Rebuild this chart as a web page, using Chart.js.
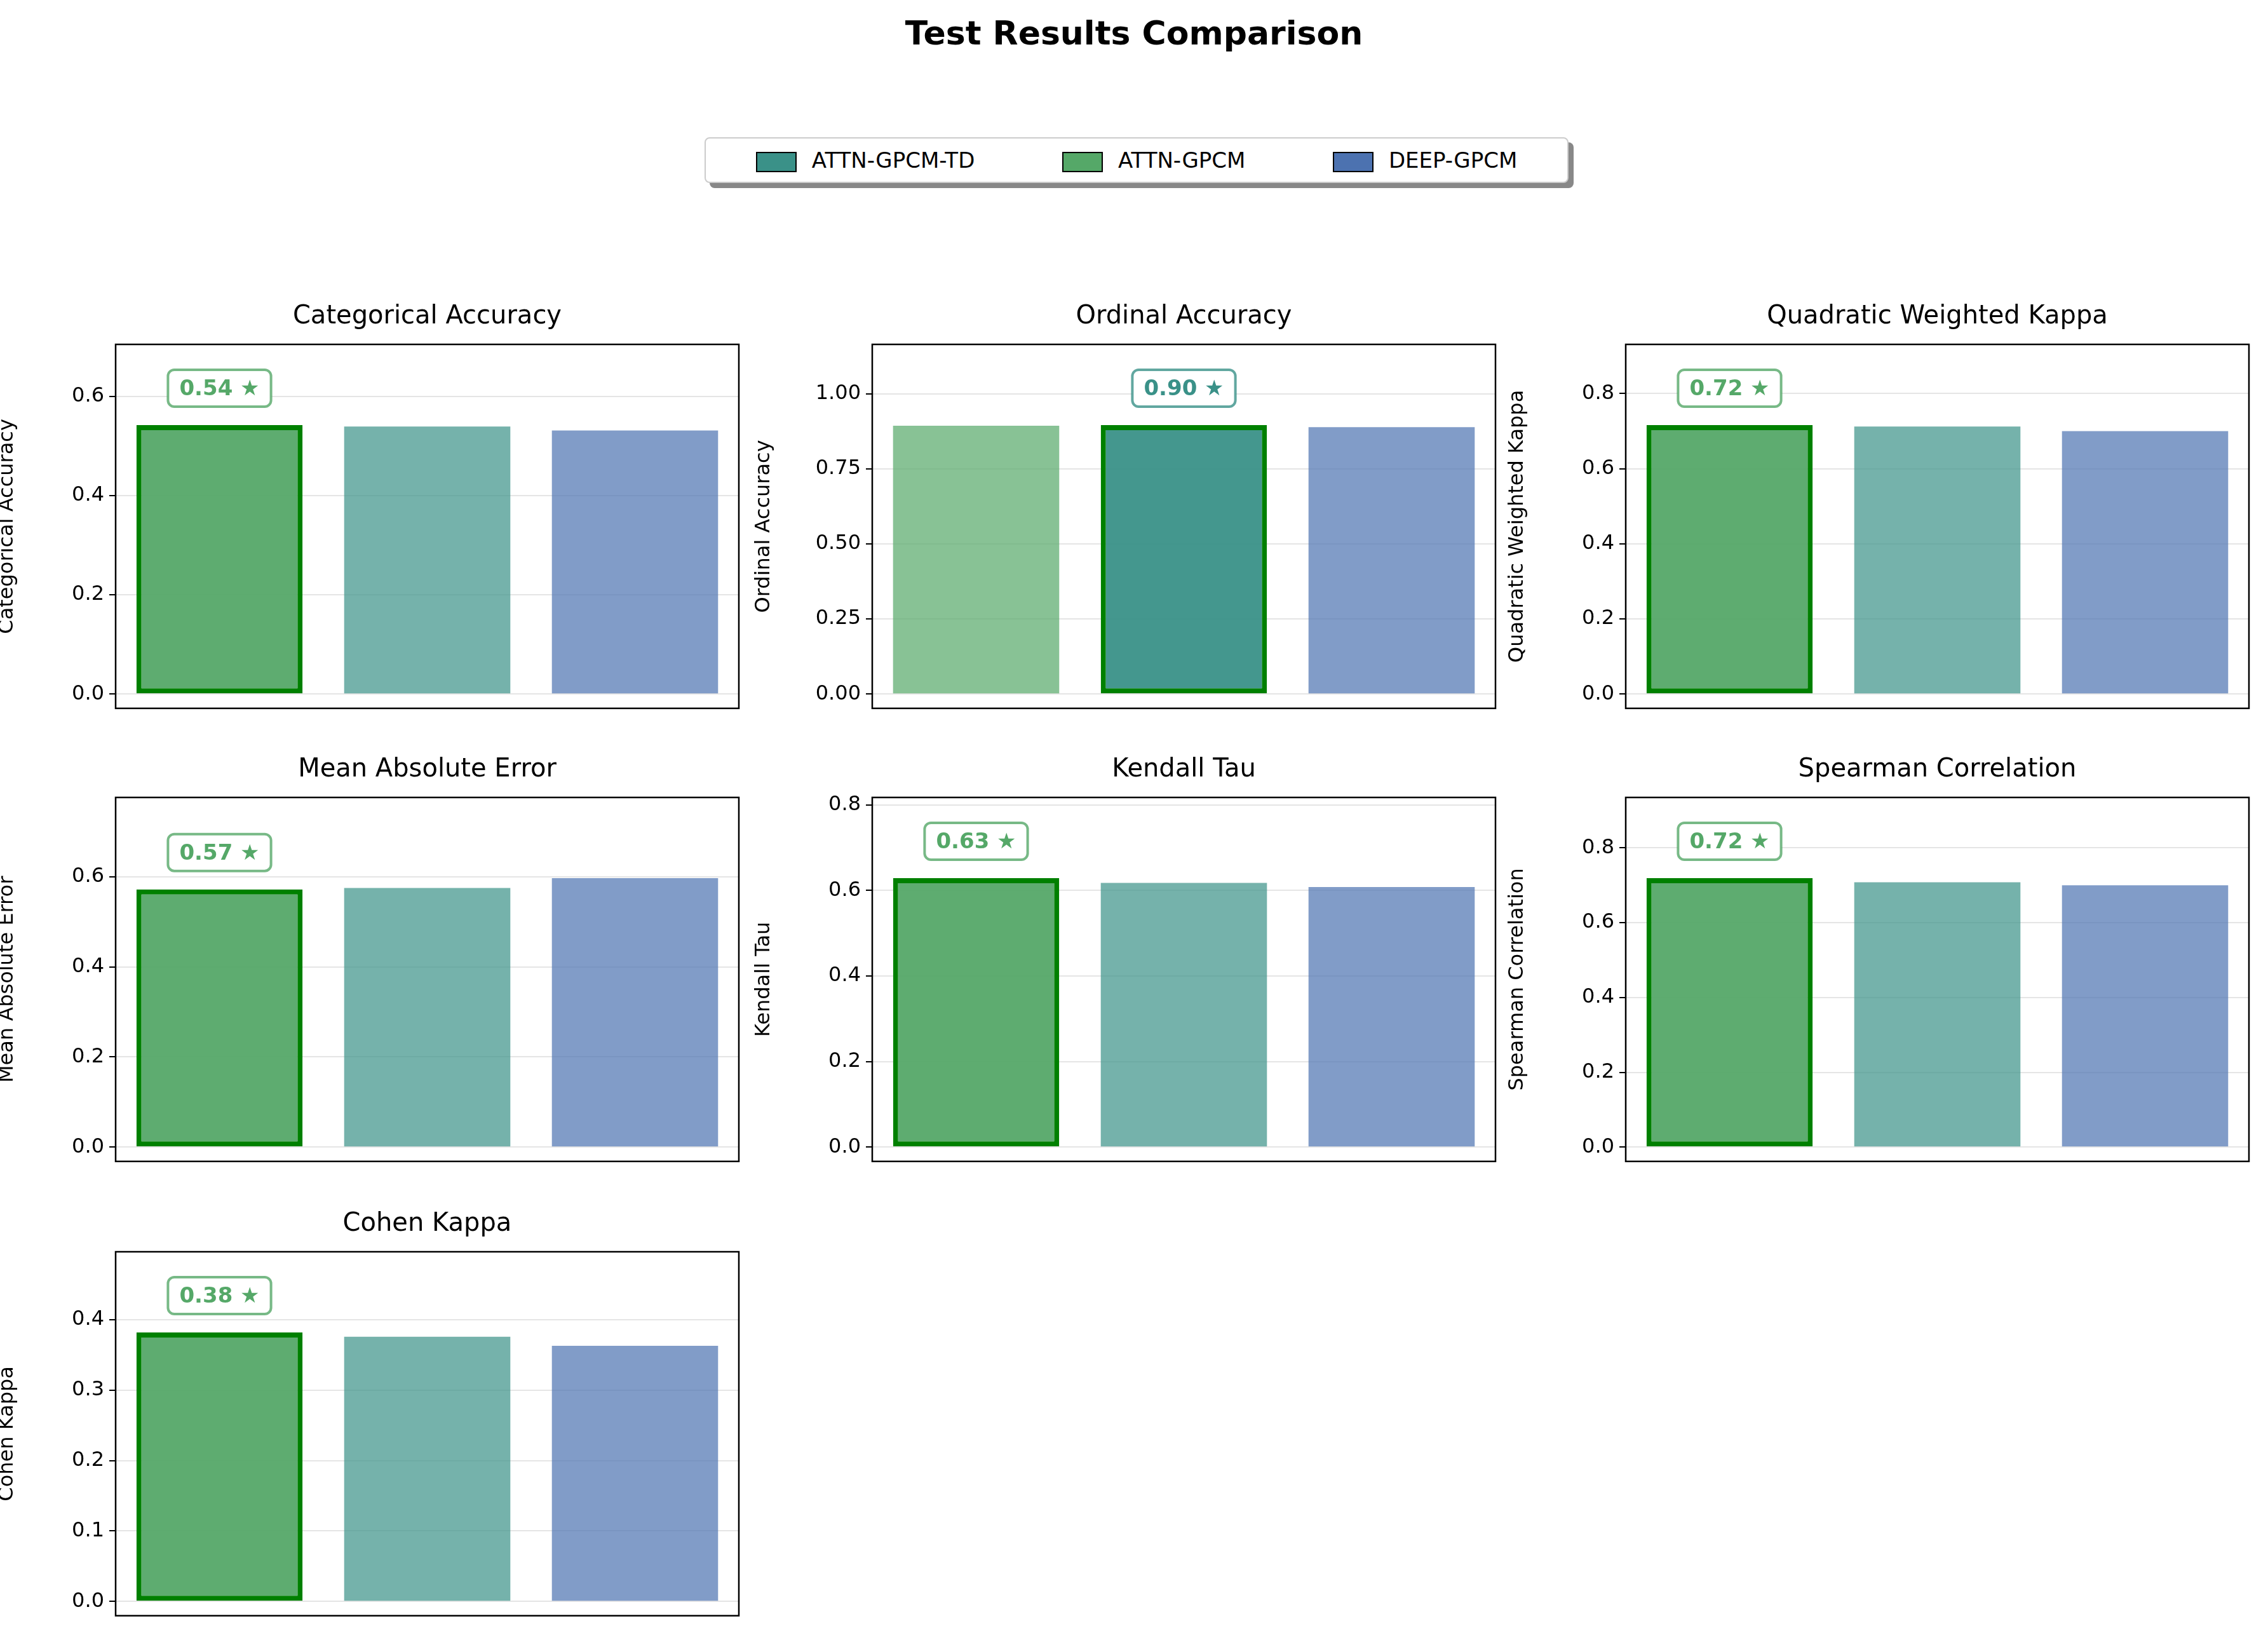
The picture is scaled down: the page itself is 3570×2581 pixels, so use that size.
<!DOCTYPE html>
<html><head><meta charset="utf-8">
<script src="https://cdn.jsdelivr.net/npm/chart.js@4"></script>
<style>
body{margin:0;background:#fff;font-family:"DejaVu Sans",sans-serif;}
#wrap{position:relative;width:3570px;height:2581px;overflow:hidden;}
canvas{position:absolute;}
.ptitle{position:absolute;font-size:40px;text-align:center;color:#000;}
#sup{position:absolute;left:0;width:3570px;top:22px;text-align:center;font-weight:bold;font-size:52px;}
#legend{position:absolute;left:1109px;top:216px;width:1360px;height:72px;border:2px solid #ccc;border-radius:8px;background:#fff;box-shadow:8px 8px 0 #888;display:flex;align-items:center;justify-content:space-around;font-size:34px;box-sizing:border-box;padding:0 10px;}
#legend span.sw{display:inline-block;width:60px;height:28px;border:2px solid #000;margin-right:24px;vertical-align:middle;}
</style></head>
<body><div id="wrap">
<div id="sup">Test Results Comparison</div>
<div id="legend">
<div><span class="sw" style="background:#3a9188"></span>ATTN-GPCM-TD</div>
<div><span class="sw" style="background:#55a868"></span>ATTN-GPCM</div>
<div><span class="sw" style="background:#4c72b0"></span>DEEP-GPCM</div>
</div>
</div>
<script>
const models = ['ATTN-GPCM', 'ATTN-GPCM-TD', 'DEEP-GPCM'];
const metrics = ['Categorical Accuracy', 'Ordinal Accuracy', 'Quadratic Weighted Kappa',
  'Mean Absolute Error', 'Kendall Tau', 'Spearman Correlation', 'Cohen Kappa'];
const categoricalAcc = [0.542, 0.539, 0.531];
const ordinalAcc = [0.894, 0.896, 0.889];
const qwk = [0.716, 0.712, 0.700];
const mae = [0.572, 0.575, 0.597];
const kendall = [0.629, 0.618, 0.608];
const spearman = [0.719, 0.708, 0.700];
const cohen = [0.382, 0.376, 0.363];
const bestIdx = [0, 1, 0, 0, 0, 0, 0];
const yTicks = [0.2, 0.25, 0.2, 0.2, 0.2, 0.2, 0.1];
const allValues = [categoricalAcc, ordinalAcc, qwk, mae, kendall, spearman, cohen];

const baseColors = { 'ATTN-GPCM': [85,168,104], 'ATTN-GPCM-TD': [58,145,136], 'DEEP-GPCM': [76,114,176] };
const rgba = (c, a) => `rgba(${c[0]},${c[1]},${c[2]},${a})`;

const colLeft = [182, 1373, 2559], rowTop = [542, 1255, 1970];
const W = 981, H = 580, PL = 190, PT = 90, PB = 20, PR = 12;
const wrap = document.getElementById('wrap');

const framePlugin = {
  id: 'frame',
  afterDraw(chart) {
    const a = chart.chartArea, ctx = chart.ctx;
    ctx.save(); ctx.strokeStyle = '#000'; ctx.lineWidth = 2.5;
    ctx.strokeRect(a.left, a.top, a.right - a.left, a.bottom - a.top);
    // annotation for best bar
    const o = chart.options.plugins.frame;
    const meta = chart.getDatasetMeta(0).data[o.best];
    const val = chart.data.datasets[0].data[o.best];
    const x = meta.x, y = chart.scales.y.getPixelForValue(val) - 58;
    const txt = (Math.round(val * 100) / 100).toFixed(2) + ' ★';
    ctx.font = 'bold 34px "DejaVu Sans"';
    const tw = ctx.measureText(txt).width, bw = tw + 36, bh = 58;
    ctx.beginPath();
    ctx.roundRect(x - bw / 2, y - bh / 2, bw, bh, 10);
    ctx.fillStyle = '#fff'; ctx.fill();
    ctx.lineWidth = 4; ctx.strokeStyle = rgba(o.color, 0.8); ctx.stroke();
    ctx.fillStyle = rgba(o.color, 1); ctx.textAlign = 'center'; ctx.textBaseline = 'middle';
    ctx.fillText(txt, x, y + 2);
    ctx.restore();
  }
};

metrics.forEach((m, i) => {
  const r = Math.floor(i / 3), c = i % 3;
  const vals = allValues[i];
  const best = bestIdx[i];
  const ymax = Math.max(...vals) * 1.3;
  const cv = document.createElement('canvas');
  const cw = W + PL + PR, ch = H + PT + PB;
  cv.width = cw; cv.height = ch;
  cv.style.left = (colLeft[c] - PL) + 'px'; cv.style.top = (rowTop[r] - PT) + 'px';
  cv.style.width = cw + 'px'; cv.style.height = ch + 'px';
  wrap.appendChild(cv);
  const t = document.createElement('div');
  t.className = 'ptitle'; t.textContent = m;
  t.style.left = colLeft[c] + 'px'; t.style.width = W + 'px'; t.style.top = (rowTop[r] - 70) + 'px';
  wrap.appendChild(t);

  const bg = models.map((md, k) => k === best ? rgba(baseColors[md], 0.95) : rgba(baseColors[md], 0.7));
  const bc = models.map((md, k) => k === best ? '#008000' : 'rgba(0,0,0,0)');
  const bw = models.map((md, k) => k === best ? 8 : 0);

  new Chart(cv, {
    type: 'bar',
    data: { labels: models, datasets: [{ data: vals, backgroundColor: bg, borderColor: bc, borderWidth: bw,
      barPercentage: 0.8, categoryPercentage: 1.0, borderSkipped: false }] },
    options: {
      responsive: false, animation: false, devicePixelRatio: 1,
      layout: { padding: { top: PT, bottom: PB, right: PR, left: 0 } },
      plugins: { legend: { display: false }, tooltip: { enabled: false },
        frame: { best: best, color: baseColors[models[best]] } },
      scales: {
        x: { display: false, offset: true },
        y: {
          min: -ymax * 0.041, max: ymax,
          afterFit: s => { s.width = PL; },
          afterBuildTicks: s => {
            const st = yTicks[i], out = [];
            for (let v = 0; v <= ymax + 1e-9; v += st) out.push({ value: Math.round(v * 1000) / 1000 });
            s.ticks = out;
          },
          ticks: { color: '#000', font: { size: 32, family: 'DejaVu Sans' }, padding: 8,
            callback: v => yTicks[i] === 0.25 ? v.toFixed(2) : v.toFixed(1) },
          grid: { color: 'rgba(0,0,0,0.1)', lineWidth: 2, tickColor: '#000', tickLength: 10 },
          border: { display: false },
          title: { display: true, text: m, color: '#000', font: { size: 32, family: 'DejaVu Sans' }, padding: 0 }
        }
      }
    },
    plugins: [framePlugin]
  });
});
</script>
</body></html>
